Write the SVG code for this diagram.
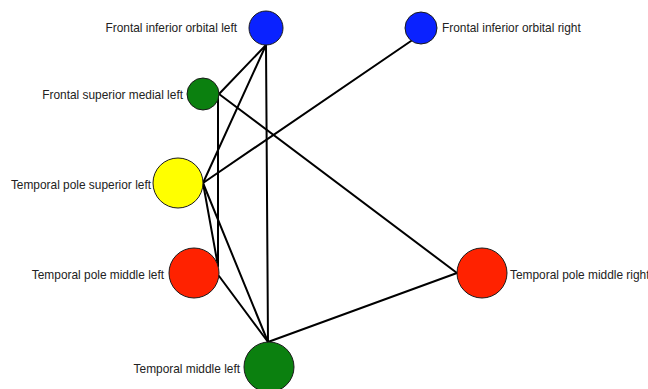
<svg xmlns="http://www.w3.org/2000/svg" width="648" height="389" viewBox="0 0 648 389">
  <style>
    .edge { stroke: #000; stroke-width: 2; fill: none; stroke-linecap: round; }
    .node { stroke: #1a1a1a; stroke-width: 1; }
    .label { font-family: "Liberation Sans", Arial, sans-serif; font-size: 11.9px; fill: #222; }
    .blue { fill: #0a22ff; }
    .green { fill: #0b800f; }
    .yellow { fill: #ffff00; }
    .red { fill: #ff2200; }
  </style>
  <rect width="648" height="389" fill="#fff"/>

  <!-- connectors between regions -->
  <g id="connectors">
    <line class="edge" x1="266" y1="45" x2="219" y2="94"/>
    <line class="edge" x1="266" y1="45" x2="203" y2="183"/>
    <line class="edge" x1="266" y1="45" x2="268" y2="342"/>
    <line class="edge" x1="218" y1="94" x2="218" y2="266"/>
    <line class="edge" x1="219" y1="94" x2="457" y2="273"/>
    <line class="edge" x1="411" y1="41" x2="203" y2="183"/>
    <line class="edge" x1="203" y1="183" x2="218" y2="266"/>
    <line class="edge" x1="203" y1="183" x2="268" y2="342"/>
    <line class="edge" x1="219" y1="276" x2="268" y2="342"/>
    <line class="edge" x1="457" y1="273" x2="268" y2="342"/>
  </g>

  <g id="frontal-inferior-orbital-left">
    <circle class="node blue" cx="266" cy="28" r="17"/>
    <text class="label" x="237" y="32" text-anchor="end">Frontal inferior orbital left</text>
  </g>
  <g id="frontal-inferior-orbital-right">
    <circle class="node blue" cx="421" cy="28" r="16"/>
    <text class="label" x="442" y="32">Frontal inferior orbital right</text>
  </g>
  <g id="frontal-superior-medial-left">
    <circle class="node green" cx="203" cy="94" r="16"/>
    <text class="label" x="183" y="99" text-anchor="end">Frontal superior medial left</text>
  </g>
  <g id="temporal-pole-superior-left">
    <circle class="node yellow" cx="178" cy="183" r="25"/>
    <text class="label" x="151" y="189" text-anchor="end">Temporal pole superior left</text>
  </g>
  <g id="temporal-pole-middle-left">
    <circle class="node red" cx="194" cy="273" r="25"/>
    <text class="label" x="164" y="279" text-anchor="end">Temporal pole middle left</text>
  </g>
  <g id="temporal-pole-middle-right">
    <circle class="node red" cx="482" cy="273" r="25"/>
    <text class="label" x="510" y="279">Temporal pole middle right</text>
  </g>
  <g id="temporal-middle-left">
    <circle class="node green" cx="269" cy="367" r="25"/>
    <text class="label" x="240" y="373" text-anchor="end">Temporal middle left</text>
  </g>
</svg>
